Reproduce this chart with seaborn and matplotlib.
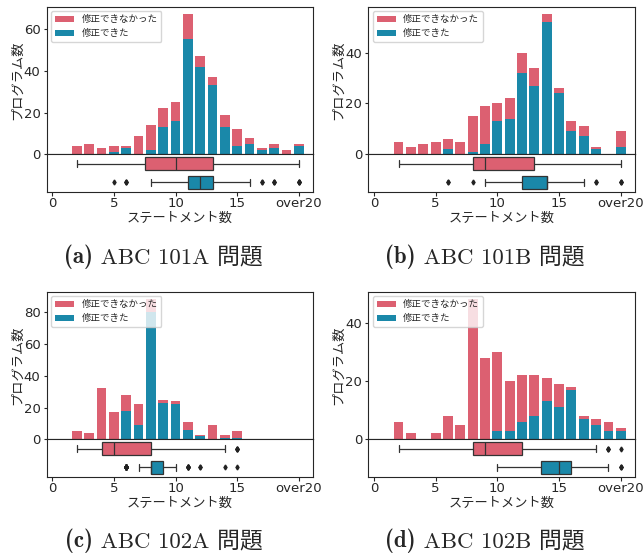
import numpy as np
import pandas as pd
import matplotlib
matplotlib.use("Agg")
import matplotlib.pyplot as plt
import seaborn as sns

# -----------------------------
# Data (x = statement count, 20 means "over20")
# -----------------------------

statements = list(range(2, 21))
tick_values = [0, 5, 10, 15, 20]
tick_labels = ["0", "5", "10", "15", "over20"]

label_unfixed = "修正できなかった"
label_fixed = "修正できた"

captions = ["(a)", "(b)", "(c)", "(d)"]
problems = ["ABC 101A", "ABC 101B", "ABC 102A", "ABC 102B"]

# ABC 101A
fixed_101a = [0, 0, 0, 1, 3, 0, 2, 13, 16, 55, 42, 33, 13, 4, 5, 2, 3, 0, 4]
unfixed_101a = [4, 5, 3, 3, 1, 9, 12, 9, 9, 12, 5, 4, 6, 8, 3, 1, 2, 2, 1]

# ABC 101B
fixed_101b = [0, 0, 0, 0, 2, 0, 1, 4, 13, 14, 32, 27, 52, 24, 9, 7, 2, 0, 3]
unfixed_101b = [5, 3, 4, 5, 4, 5, 14, 15, 7, 8, 8, 7, 3, 2, 4, 4, 1, 0, 6]

# ABC 102A
fixed_102a = [0, 0, 0, 0, 18, 9, 80, 23, 22, 6, 2, 0, 1, 1, 0, 0, 0, 0, 0]
unfixed_102a = [5, 4, 32, 17, 10, 13, 8, 2, 2, 5, 1, 9, 2, 4, 0, 0, 0, 0, 0]

# ABC 102B
fixed_102b = [0, 0, 0, 0, 0, 0, 0, 0, 3, 3, 6, 8, 13, 11, 17, 7, 5, 3, 3]
unfixed_102b = [6, 2, 0, 2, 8, 5, 48, 28, 27, 17, 16, 14, 8, 8, 1, 1, 2, 3, 1]

fixed_all = [fixed_101a, fixed_101b, fixed_102a, fixed_102b]
unfixed_all = [unfixed_101a, unfixed_101b, unfixed_102a, unfixed_102b]

RED = "#dc6071"
BLUE = "#1a88a9"

# -----------------------------
# Style
# -----------------------------

sns.set_style("ticks")
plt.rcParams["font.family"] = ["DejaVu Sans", "Noto Sans CJK JP"]
plt.rcParams["axes.linewidth"] = 0.8

W, H = 643, 555
fig = plt.figure(figsize=(W / 100, H / 100), dpi=100)
renderer = fig.canvas.get_renderer()

# panel boxes in pixels: left, right, top
lefts = [46.7, 368.3, 46.7, 368.3]
rights = [313.0, 635.0, 313.0, 635.0]
tops = [6.7, 6.7, 291.7, 291.7]
row_h_top = 147.6
row_h_box = 37.4
cap_x = [163.5, 484.5, 163.5, 484.5]
cap_base = [263.0, 263.0, 547.0, 547.0]
cap_size = 16.5

for i in range(4):
    L, R, T = lefts[i], rights[i], tops[i]
    Z = T + row_h_top
    B = Z + row_h_box
    ax = fig.add_axes([L / W, 1 - Z / H, (R - L) / W, row_h_top / H])
    ax2 = fig.add_axes([L / W, 1 - B / H, (R - L) / W, row_h_box / H], sharex=ax)

    fixed = np.array(fixed_all[i])
    unfixed = np.array(unfixed_all[i])
    total = fixed + unfixed

    # stacked histogram
    sns.barplot(x=statements, y=total, native_scale=True, color=RED,
                saturation=1, errorbar=None, width=0.8, linewidth=0,
                label=label_unfixed, ax=ax)
    sns.barplot(x=statements, y=fixed, native_scale=True, color=BLUE,
                saturation=1, errorbar=None, width=0.8, linewidth=0,
                label=label_fixed, ax=ax)
    ax.set_ylim(0, total.max() * 1.055)
    ax.set_yticks(np.arange(0, total.max() + 1, 20))
    ax.set_ylabel("プログラム数", fontsize=9.5, labelpad=0)
    ax.tick_params(axis="y", labelsize=9.5, length=2.5, pad=2)
    ax.tick_params(axis="x", bottom=False, labelbottom=False)
    ax.legend(loc="upper left", fontsize=6.8, framealpha=0.8)

    # box plots of the two groups
    box_df = pd.DataFrame({
        "stmt": np.concatenate([np.repeat(statements, unfixed),
                                np.repeat(statements, fixed)]),
        "status": [label_unfixed] * unfixed.sum() + [label_fixed] * fixed.sum(),
    })
    sns.boxplot(data=box_df, x="stmt", y="status", hue="status",
                order=[label_unfixed, label_fixed],
                palette={label_unfixed: RED, label_fixed: BLUE},
                orient="h", width=0.72, saturation=1, linewidth=0.9,
                linecolor="#333333", fliersize=2.5,
                flierprops=dict(marker="d", markerfacecolor="#222222",
                                markeredgecolor="#222222"),
                legend=False, ax=ax2)
    ax2.set_yticks([])
    ax2.set_ylabel("")
    ax2.set_xlim(-0.45, 21.15)
    ax2.set_xticks(tick_values)
    ax2.set_xticklabels(tick_labels)
    ax2.tick_params(axis="x", labelsize=9.5, length=3, pad=1)
    ax2.set_xlabel("ステートメント数", fontsize=9.5, labelpad=1)

    # caption: bold tag + title, centred under the panel
    t1 = fig.text(0, 0, captions[i], fontsize=cap_size, family="cmb10",
                  va="baseline", ha="left")
    t2 = fig.text(0, 0, " " + problems[i] + " 問題", fontsize=cap_size,
                  family=["cmr10", "Noto Sans CJK JP"], va="baseline", ha="left")
    w1 = t1.get_window_extent(renderer).width
    w2 = t2.get_window_extent(renderer).width
    x0 = cap_x[i] - (w1 + w2) / 2
    t1.set_position((x0 / W, 1 - cap_base[i] / H))
    t2.set_position(((x0 + w1) / W, 1 - cap_base[i] / H))

fig.savefig("out.png", dpi=100)
